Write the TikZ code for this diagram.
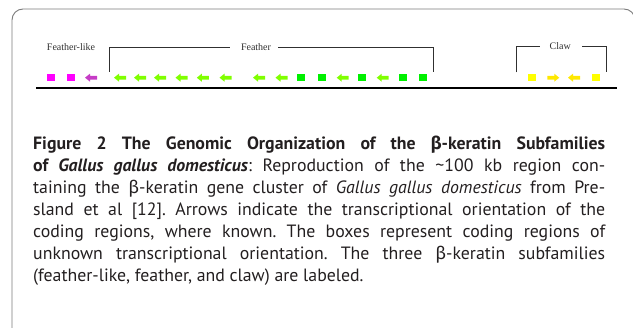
\documentclass[tikz,border=0pt]{standalone}
\usepackage{fontspec}
\setmainfont{PT Sans}
\newfontfamily\grkfont{Fira Sans}
\newfontfamily\labfont{Liberation Serif}
\frenchspacing
\definecolor{framec}{HTML}{7A7A7A}
\definecolor{txt}{HTML}{231F20}
\definecolor{labc}{HTML}{303030}
\definecolor{magsq}{HTML}{FF00FF}
\definecolor{magar}{HTML}{C63CC6}
\definecolor{limear}{HTML}{80FF00}
\definecolor{greensq}{HTML}{00F000}
\definecolor{yelsq}{HTML}{FFFF00}
\definecolor{yelar}{HTML}{FFE800}
\newcommand{\gb}{{\grkfont β}}
\tikzset{
  genebox/.style={draw=none,fill=#1,minimum width=8pt,minimum height=7.5pt,inner sep=0pt},
  pics/larrow/.style={code={\fill[#1] (-6,0) -- (-1,-4) -- (-1,-1.9) -- (6,-1.9) -- (6,1.9) -- (-1,1.9) -- (-1,4) -- cycle;}},
  pics/rarrow/.style={code={\fill[#1] (6,0) -- (1,-4) -- (1,-1.9) -- (-6,-1.9) -- (-6,1.9) -- (1,1.9) -- (1,4) -- cycle;}},
  fam/.style={font=\labfont\fontsize{10}{12}\selectfont,text=labc,inner sep=0pt},
  bracket/.style={draw=labc,line width=0.8pt},
  capline/.style={anchor=base west,inner sep=0pt,text=txt,font=\fontsize{17.8}{22}\selectfont}
}
\begin{document}
\begin{tikzpicture}[x=1pt,y=-1pt]
\useasboundingbox (0,0) rectangle (633,328);
\clip (0,0) rectangle (633,328);
% frame
\draw[framec,line width=0.9pt,rounded corners=11pt] (12,336) -- (12,9) -- (635,9) -- (635,336);
% chromosome line
\coordinate (chrA) at (36,87.6);
\coordinate (chrB) at (617,87.6);
\draw[line width=2pt] (chrA) -- (chrB);
% feather-like
\node[genebox=magsq] (m1) at (50.5,77.7) {};
\node[genebox=magsq] (m2) at (70.5,77.7) {};
\pic at (91,77.7) {larrow=magar};
% feather
\foreach \x in {120,140,160,181.5,202.8,225.5,259,281.5,342.7,382.7}
  \pic at (\x,77.7) {larrow=limear};
\foreach \x/\n in {300.5/f1,321.7/f2,362.2/f3,402.5/f4,422.5/f5}
  \node[genebox=greensq] (\n) at (\x,77.7) {};
% claw
\node[genebox=yelsq] (c1) at (531.7,77.7) {};
\pic at (553.3,77.7) {rarrow=yelar};
\pic at (574,77.7) {larrow=yelar};
\node[genebox=yelsq] (c2) at (595.7,77.7) {};
% labels and brackets
\node[fam] (fl) at (71,47.3) {Feather-like};
\node[fam] (fe) at (256,47.3) {Feather};
\node[fam] (cl) at (560.3,46.5) {Claw};
\coordinate (feL) at (109,72);
\coordinate (feR) at (433.3,72.5);
\coordinate (clL) at (516.7,72.5);
\coordinate (clR) at (606,72.5);
\draw[bracket] (feL) |- ([xshift=-11pt]fe.west);
\draw[bracket] ([xshift=7pt]fe.east) -| (feR);
\draw[bracket] (clL) |- ([xshift=-10pt]cl.west);
\draw[bracket] ([xshift=11pt]cl.east) -| (clR);
% caption
\node[capline] (l1) at (33,150) {\makebox[572pt][s]{\bfseries Figure 2 The Genomic Organization of the \gb-keratin Subfamilies}};
\node[capline] (l2) at (33,172) {\makebox[572pt][s]{\textbf{of \textit{Gallus gallus domesticus}}: Reproduction of the \textasciitilde100 kb region con-}};
\node[capline] (l3) at (33,194) {\makebox[572pt][s]{taining the \gb-keratin gene cluster of \textit{Gallus gallus domesticus} from Pre-}};
\node[capline] (l4) at (33,216) {\makebox[572pt][s]{sland et al [12]. Arrows indicate the transcriptional orientation of the}};
\node[capline] (l5) at (33,238) {\makebox[572pt][s]{coding regions, where known. The boxes represent coding regions of}};
\node[capline] (l6) at (33,260) {\makebox[572pt][s]{unknown transcriptional orientation. The three \gb-keratin subfamilies}};
\node[capline] (l7) at (33,282) {(feather-like, feather, and claw) are labeled.};
\end{tikzpicture}
\end{document}
